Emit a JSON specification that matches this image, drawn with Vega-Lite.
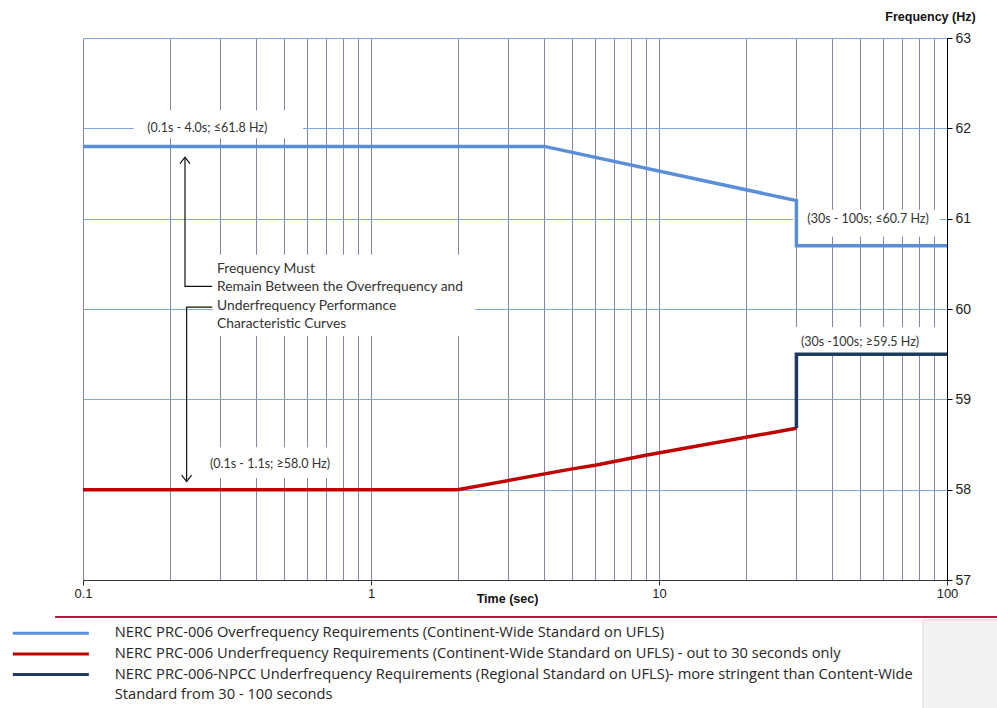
{
  "$schema": "https://vega.github.io/schema/vega-lite/v6.json",
  "width": 864,
  "height": 542,
  "autosize": {"type": "none"},
  "padding": {"left": 83, "top": 38, "right": 50, "bottom": 128},
  "background": "white",
  "config": {"view": {"stroke": null}},
  "datasets": {
    "curves": [
      {"series": "NERC PRC-006 Overfrequency Requirements (Continent-Wide Standard on UFLS)", "t": 0.1, "hz": 61.8, "ord": 1},
      {"series": "NERC PRC-006 Overfrequency Requirements (Continent-Wide Standard on UFLS)", "t": 4, "hz": 61.8, "ord": 2},
      {"series": "NERC PRC-006 Overfrequency Requirements (Continent-Wide Standard on UFLS)", "t": 30, "hz": 61.2, "ord": 3},
      {"series": "NERC PRC-006 Overfrequency Requirements (Continent-Wide Standard on UFLS)", "t": 30, "hz": 60.7, "ord": 4},
      {"series": "NERC PRC-006 Overfrequency Requirements (Continent-Wide Standard on UFLS)", "t": 100, "hz": 60.7, "ord": 5},
      {"series": "NERC PRC-006 Underfrequency Requirements (Continent-Wide Standard on UFLS) - out to 30 seconds only", "t": 0.1, "hz": 58.0, "ord": 1},
      {"series": "NERC PRC-006 Underfrequency Requirements (Continent-Wide Standard on UFLS) - out to 30 seconds only", "t": 2, "hz": 58.0, "ord": 2},
      {"series": "NERC PRC-006 Underfrequency Requirements (Continent-Wide Standard on UFLS) - out to 30 seconds only", "t": 5, "hz": 58.23, "ord": 3},
      {"series": "NERC PRC-006 Underfrequency Requirements (Continent-Wide Standard on UFLS) - out to 30 seconds only", "t": 6, "hz": 58.27, "ord": 4},
      {"series": "NERC PRC-006 Underfrequency Requirements (Continent-Wide Standard on UFLS) - out to 30 seconds only", "t": 9, "hz": 58.38, "ord": 5},
      {"series": "NERC PRC-006 Underfrequency Requirements (Continent-Wide Standard on UFLS) - out to 30 seconds only", "t": 30, "hz": 58.68, "ord": 6},
      {"series": "NERC PRC-006-NPCC Underfrequency Requirements (Regional Standard on UFLS)- more stringent than Content-Wide", "t": 30, "hz": 58.68, "ord": 1},
      {"series": "NERC PRC-006-NPCC Underfrequency Requirements (Regional Standard on UFLS)- more stringent than Content-Wide", "t": 30, "hz": 59.5, "ord": 2},
      {"series": "NERC PRC-006-NPCC Underfrequency Requirements (Regional Standard on UFLS)- more stringent than Content-Wide", "t": 100, "hz": 59.5, "ord": 3}
    ],
    "boxes": [
      {"t1": 0.150, "t2": 0.581, "h1": 62.20, "h2": 61.89},
      {"t1": 29.2, "t2": 94.6, "h1": 61.10, "h2": 60.80},
      {"t1": 0.283, "t2": 2.30, "h1": 60.60, "h2": 59.70},
      {"t1": 0.255, "t2": 0.780, "h1": 58.47, "h2": 58.13},
      {"t1": 28.5, "t2": 94.6, "h1": 59.80, "h2": 59.49}
    ],
    "labels": [
      {"t": 0.27, "hz": 62.0, "text": "(0.1s - 4.0s; ≤61.8 Hz)"},
      {"t": 53.2, "hz": 61.0, "text": "(30s - 100s; ≤60.7 Hz)"},
      {"t": 0.446, "hz": 58.284, "text": "(0.1s - 1.1s; ≥58.0 Hz)"},
      {"t": 49.9, "hz": 59.635, "text": "(30s -100s; ≥59.5 Hz)"}
    ],
    "note": [
      {"t": 0.292, "hz": 60.443, "text": "Frequency Must"},
      {"t": 0.292, "hz": 60.244, "text": "Remain Between the Overfrequency and"},
      {"t": 0.292, "hz": 60.033, "text": "Underfrequency Performance"},
      {"t": 0.292, "hz": 59.834, "text": "Characteristic Curves"}
    ],
    "arrowlines": [
      {"g": "up", "t": 0.226, "hz": 61.68, "ord": 1},
      {"g": "up", "t": 0.226, "hz": 60.25, "ord": 2},
      {"g": "up", "t": 0.281, "hz": 60.25, "ord": 3},
      {"g": "down", "t": 0.281, "hz": 60.02, "ord": 1},
      {"g": "down", "t": 0.229, "hz": 60.02, "ord": 2},
      {"g": "down", "t": 0.229, "hz": 58.09, "ord": 3}
    ],
    "heads": [
      {"g": "up", "t": 0.226, "hz": 61.68},
      {"g": "down", "t": 0.229, "hz": 58.09}
    ]
  },
  "layer": [
    {
      "data": {"values": [{"t1": 82.6, "t2": 200, "h1": 56.56, "h2": 55.0}]},
      "mark": {"type": "rect", "fill": "#F2F2F2", "stroke": "#DADADA", "strokeWidth": 1, "clip": false},
      "encoding": {
        "x": {"field": "t1", "type": "quantitative", "scale": {"type": "log", "domain": [0.1, 100], "nice": false}},
        "x2": {"field": "t2"},
        "y": {"field": "h1", "type": "quantitative", "scale": {"domain": [57, 63], "nice": false, "zero": false}},
        "y2": {"field": "h2"}
      }
    },
    {
      "data": {"values": [{"t1": 0.08, "t2": 150, "h": 56.59}]},
      "mark": {"type": "rule", "color": "#C0143C", "strokeWidth": 2, "clip": false},
      "encoding": {
        "x": {"field": "t1", "type": "quantitative"},
        "x2": {"field": "t2"},
        "y": {"field": "h", "type": "quantitative"}
      }
    },
    {
      "data": {"name": "boxes"},
      "mark": {"type": "rect", "fill": "white"},
      "encoding": {
        "x": {"field": "t1", "type": "quantitative"},
        "x2": {"field": "t2"},
        "y": {"field": "h1", "type": "quantitative"},
        "y2": {"field": "h2"}
      }
    },
    {
      "data": {"name": "curves"},
      "mark": {"type": "line", "strokeWidth": 3.5, "strokeJoin": "miter"},
      "encoding": {
        "x": {
          "field": "t", "type": "quantitative",
          "scale": {"type": "log", "domain": [0.1, 100], "nice": false},
          "axis": {
            "orient": "bottom",
            "title": "Time (sec)",
            "values": [0.1, 0.2, 0.3, 0.4, 0.5, 0.6, 0.7, 0.8, 0.9, 1, 2, 3, 4, 5, 6, 7, 8, 9, 10, 20, 30, 40, 50, 60, 70, 80, 90, 100],
            "format": "~g",
            "labelExpr": "indexof([0.1, 1, 10, 100], datum.value) >= 0 ? datum.label : ''",
            "labelFlush": false,
            "labelOverlap": false,
            "grid": true,
            "gridColor": "#8484B4",
            "gridWidth": 1,
            "gridOpacity": 1,
            "domainColor": "#333333",
            "domainWidth": 1,
            "tickColor": "#333333",
            "tickSize": 5,
            "tickOpacity": {"condition": {"test": "indexof([0.1, 1, 10, 100], datum.value) >= 0", "value": 1}, "value": 0},
            "labelPadding": 2,
            "labelFont": "Liberation Sans",
            "labelFontSize": 13,
            "labelColor": "#222222",
            "titleFont": "Liberation Sans",
            "titleFontSize": 12.5,
            "titleFontWeight": "bold",
            "titleColor": "#111111",
            "titleX": 424,
            "titleY": 18,
            "titleBaseline": "middle",
            "titleAlign": "center"
          }
        },
        "y": {
          "field": "hz", "type": "quantitative",
          "scale": {"domain": [57, 63], "nice": false, "zero": false},
          "axis": {
            "orient": "right",
            "title": "Frequency (Hz)",
            "values": [57, 58, 59, 60, 61, 62, 63],
            "format": "d",
            "grid": true,
            "gridColor": "#7EA6E0",
            "gridWidth": 1,
            "gridOpacity": 1,
            "domainColor": "#000000",
            "domainWidth": 1,
            "tickColor": "#000000",
            "tickSize": 5,
            "labelPadding": 3,
            "labelFont": "Liberation Sans",
            "labelFontSize": 14,
            "labelColor": "#222222",
            "titleFont": "Liberation Sans",
            "titleFontSize": 12.5,
            "titleFontWeight": "bold",
            "titleColor": "#111111",
            "titleAngle": 0,
            "titleX": -17,
            "titleY": -22,
            "titleAlign": "center",
            "titleBaseline": "middle"
          }
        },
        "order": {"field": "ord", "type": "quantitative"},
        "color": {
          "field": "series", "type": "nominal",
          "scale": {
            "domain": [
              "NERC PRC-006 Overfrequency Requirements (Continent-Wide Standard on UFLS)",
              "NERC PRC-006 Underfrequency Requirements (Continent-Wide Standard on UFLS) - out to 30 seconds only",
              "NERC PRC-006-NPCC Underfrequency Requirements (Regional Standard on UFLS)- more stringent than Content-Wide",
              "Standard from 30 - 100 seconds"
            ],
            "range": ["#5A8FD8", "#C00000", "#1F3A60", "rgba(0,0,0,0)"]
          },
          "legend": {
            "orient": "none",
            "legendX": -39.5,
            "legendY": 588,
            "title": null,
            "padding": 0,
            "symbolType": "M-7.6,0L7.6,0",
            "symbolSize": 100,
            "symbolStrokeWidth": 3,
            "labelOffset": 56.5,
            "labelFont": "Open Sans",
            "labelFontSize": 14.7,
            "labelColor": "#262626",
            "rowPadding": 4.6,
            "labelLimit": 900
          }
        }
      }
    },
    {
      "data": {"name": "arrowlines"},
      "mark": {"type": "line", "color": "#111111", "strokeWidth": 1.2},
      "encoding": {
        "x": {"field": "t", "type": "quantitative"},
        "y": {"field": "hz", "type": "quantitative"},
        "detail": {"field": "g"},
        "order": {"field": "ord", "type": "quantitative"}
      }
    },
    {
      "data": {"name": "heads"},
      "transform": [{"filter": "datum.g == 'up'"}],
      "mark": {"type": "point", "shape": "M-1,1.3L0,0L1,1.3", "size": 100, "filled": false, "color": "#111111", "strokeWidth": 1.2, "opacity": 1},
      "encoding": {
        "x": {"field": "t", "type": "quantitative"},
        "y": {"field": "hz", "type": "quantitative"}
      }
    },
    {
      "data": {"name": "heads"},
      "transform": [{"filter": "datum.g == 'down'"}],
      "mark": {"type": "point", "shape": "M-1,-1.3L0,0L1,-1.3", "size": 100, "filled": false, "color": "#111111", "strokeWidth": 1.2, "opacity": 1},
      "encoding": {
        "x": {"field": "t", "type": "quantitative"},
        "y": {"field": "hz", "type": "quantitative"}
      }
    },
    {
      "data": {"name": "labels"},
      "mark": {"type": "text", "font": "Lato", "fontSize": 12.5, "color": "#333333", "align": "center", "baseline": "middle"},
      "encoding": {
        "x": {"field": "t", "type": "quantitative"},
        "y": {"field": "hz", "type": "quantitative"},
        "text": {"field": "text"}
      }
    },
    {
      "data": {"name": "note"},
      "mark": {"type": "text", "font": "Lato", "fontSize": 13.8, "color": "#333333", "align": "left", "baseline": "middle"},
      "encoding": {
        "x": {"field": "t", "type": "quantitative"},
        "y": {"field": "hz", "type": "quantitative"},
        "text": {"field": "text"}
      }
    }
  ]
}
